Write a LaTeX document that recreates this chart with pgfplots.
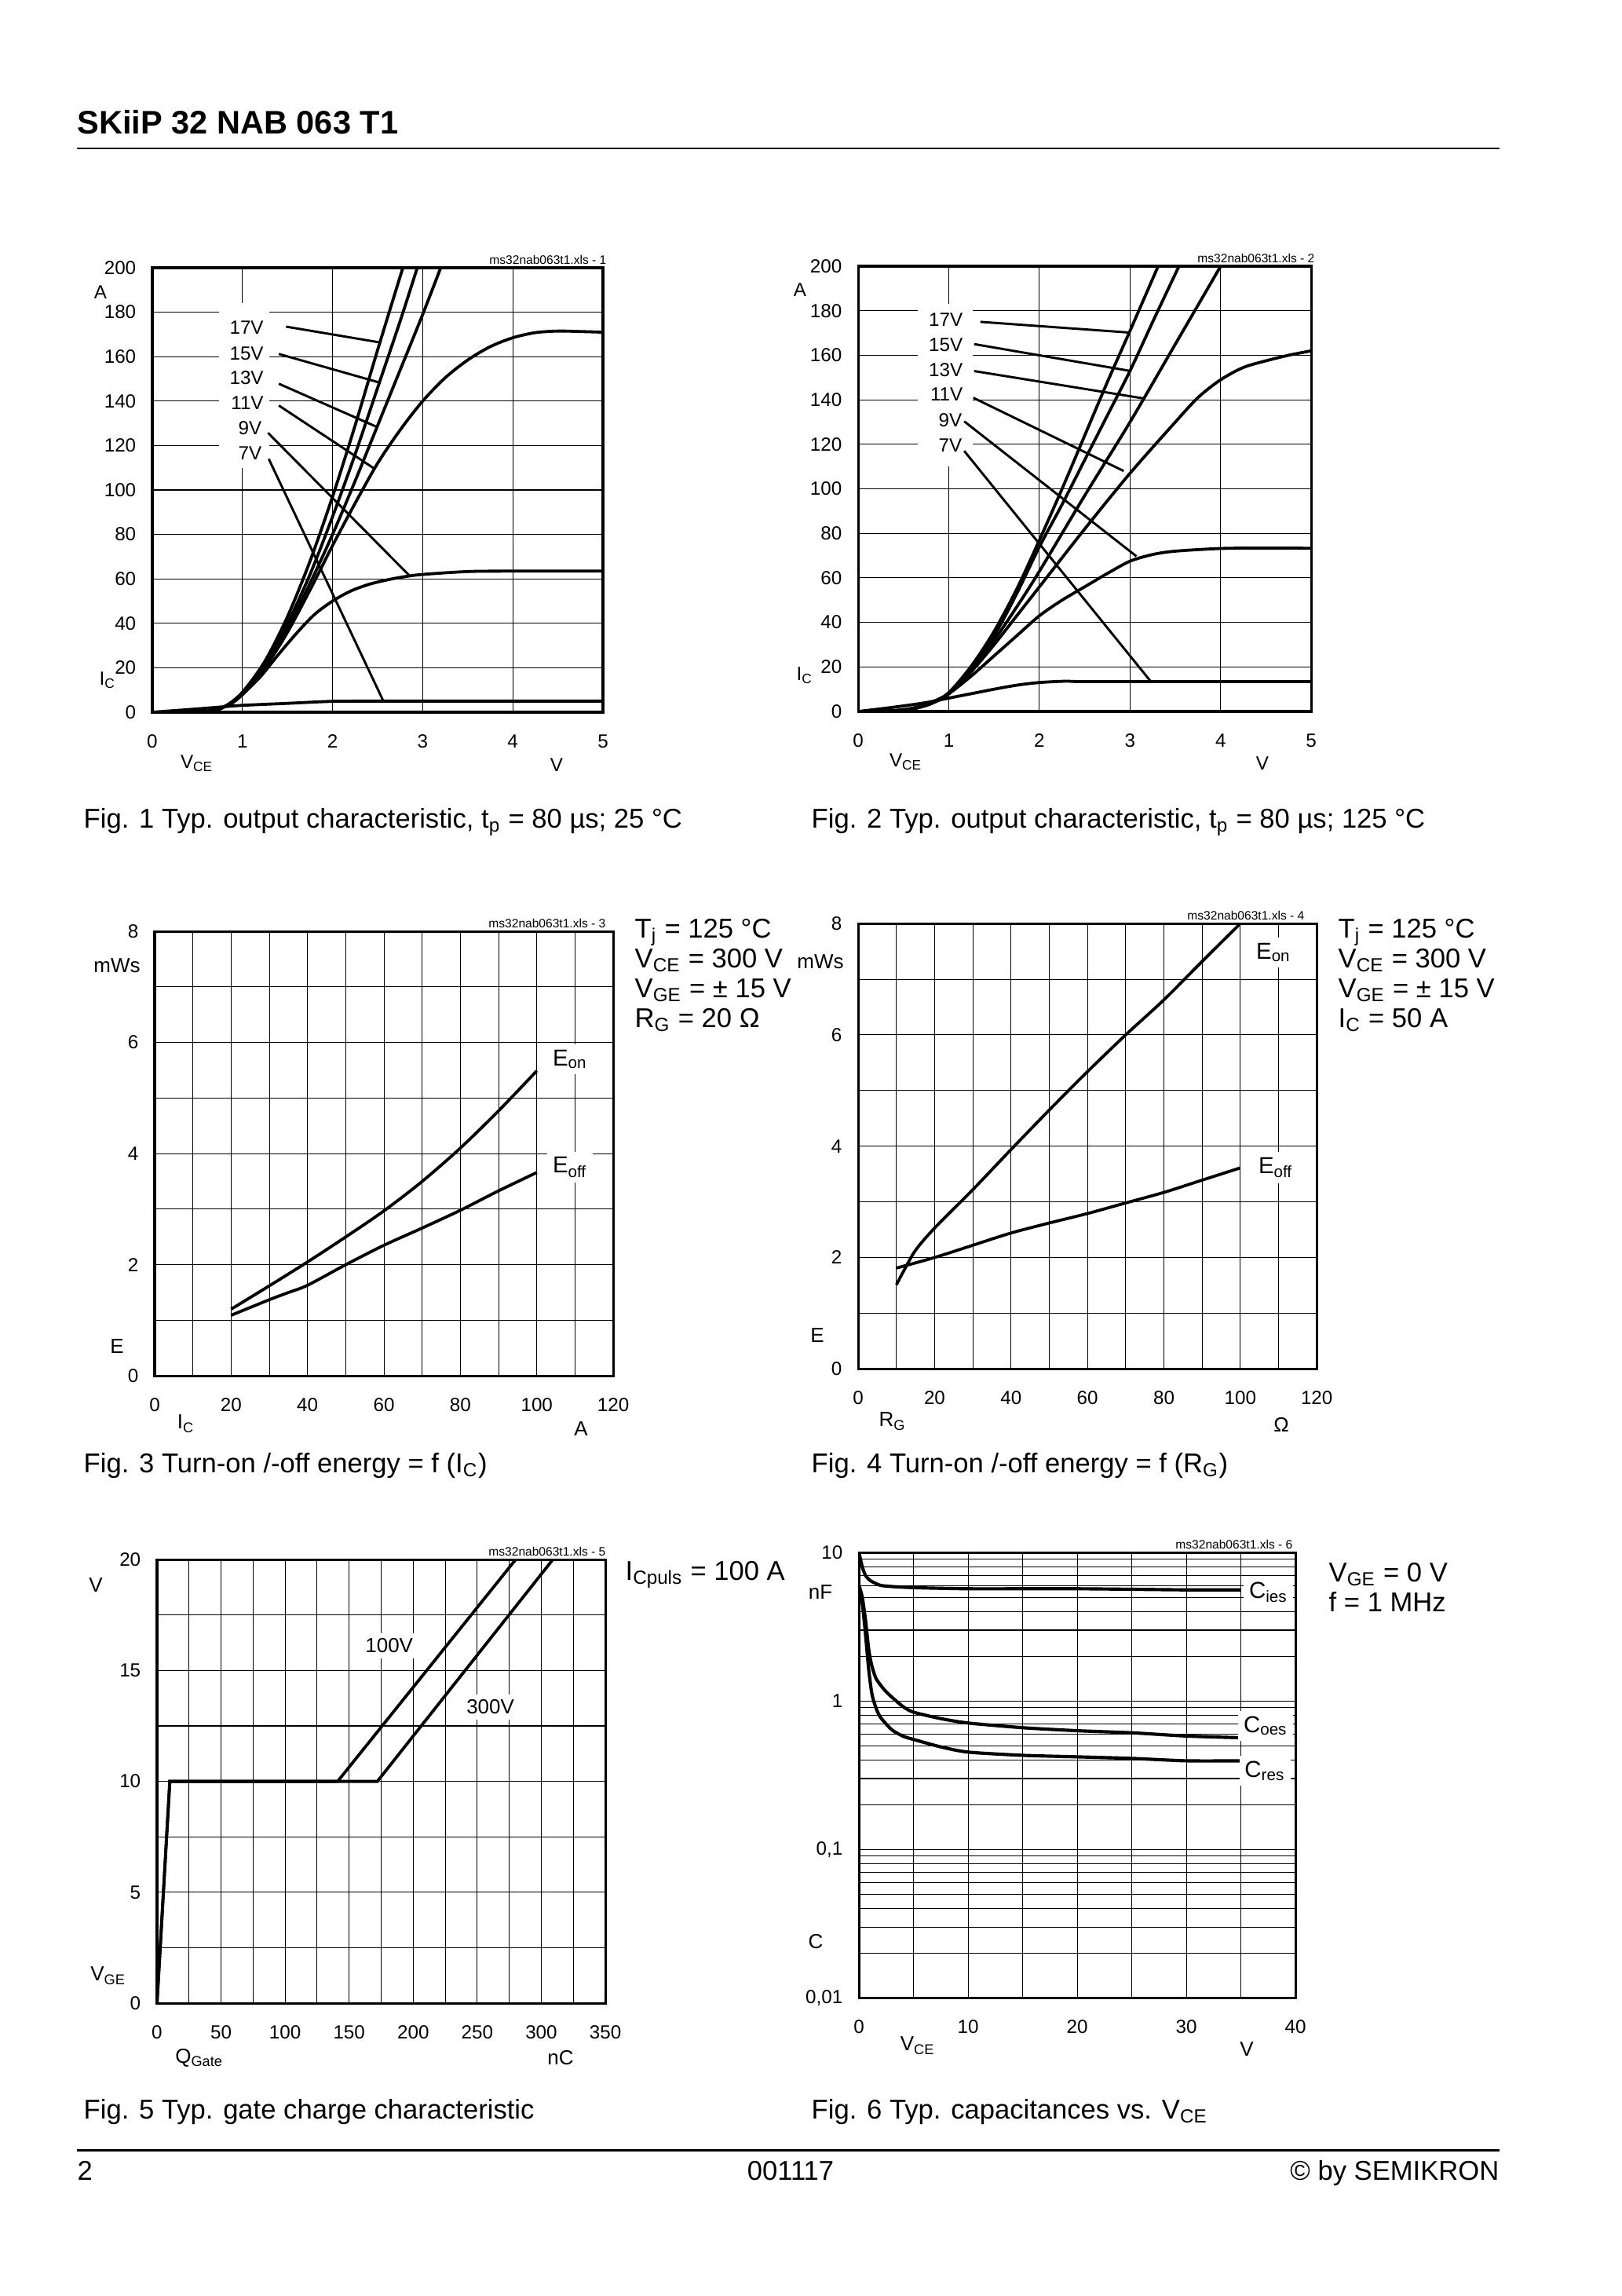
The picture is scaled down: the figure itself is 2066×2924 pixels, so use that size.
\documentclass[border=0pt]{standalone}
\usepackage{pgfplots}
\pgfplotsset{compat=1.18}
\usepackage{fontspec}
\setmainfont{Liberation Sans}

\pgfplotsset{
  ds/.style={
    scale only axis, anchor=south west,
    axis line style={line width=0.9pt},
    major grid style={line width=0.3pt, black},
    minor grid style={line width=0.3pt, black},
    major tick length=0pt, minor tick length=0pt,
    tick style={draw=none},
    ticklabel style={font={\fontsize{7}{8}\selectfont}},
    xticklabel style={anchor=center, yshift=-10.7pt, inner sep=0pt},
    yticklabel style={anchor=east, xshift=-5.8pt, inner sep=0pt},
    /pgf/number format/assume math mode=true,
    scaled ticks=false,
    cycle list={{black,solid,mark=none}},
    every axis plot post/.append style={line width=1.1pt, black, mark=none},
  },
}
\tikzset{
  t7/.style={font={\fontsize{7}{8}\selectfont}, inner sep=0pt},
  t75/.style={font={\fontsize{7.5}{8.5}\selectfont}, inner sep=0pt},
  t85/.style={font={\fontsize{8.5}{9.5}\selectfont}, inner sep=0pt},
  t10/.style={font={\fontsize{10}{12}\selectfont}, inner sep=0pt},
  wm/.style={font={\fontsize{4.5}{5}\selectfont}, inner sep=0pt, anchor=south east},
  ld/.style={line width=0.85pt, black},
}

\begin{document}
\begin{tikzpicture}[x=0.10157mm,y=-0.10157mm]
\path[use as bounding box, fill=white] (0,0) rectangle (2066,2924);

% ---------------- Fig 1 ----------------
\begin{axis}[ds, at={(19.70mm,-92.12mm)}, width=58.30mm, height=57.49mm,
  xmin=0, xmax=5, ymin=0, ymax=200,
  xtick={0,1,2,3,4,5}, ytick={0,20,...,200}, grid=major]
\fill[white] (axis cs:0.74,110) rectangle (axis cs:1.30,184);
\addplot+[smooth] coordinates {(0,0)(0.5,1.5)(0.8,2.5)(1,3.1)(1.5,4)(2,4.9)(2.5,5)(3,5)(4,5)(5,5)};
\addplot+[smooth] coordinates {(0,0)(0.6,0.5)(0.8,2.5)(0.9,4.5)(1,8)(1.2,16)(1.4,26)(1.6,35.5)(1.8,44)(2,50)(2.2,54.5)(2.4,57.5)(2.6,59.5)(2.8,61)(3,62)(3.5,63.3)(4,63.5)(5,63.5)};
\addplot+[smooth] coordinates {(0,0)(0.6,0.4)(0.8,2.5)(1,8)(1.25,20)(1.5,36)(1.75,55)(2,75)(2.25,94)(2.5,112)(2.75,127)(3,140)(3.25,150.5)(3.5,158.5)(3.75,164.5)(4,168.5)(4.25,170.8)(4.5,171.5)(4.75,171.3)(5,171)};
\addplot+[smooth] coordinates {(0,0)(0.6,0.3)(0.8,2.5)(1,8)(1.25,21)(1.5,38)(1.75,58)(2,80)(2.25,104)(2.5,129)(2.75,154)(3,179)(3.2,200)};
\addplot+[smooth] coordinates {(0,0)(0.6,0.3)(0.8,2.5)(1,8.5)(1.25,22)(1.5,40)(1.75,62)(2,88)(2.25,116)(2.5,146)(2.75,176)(2.94,200)};
\addplot+[smooth] coordinates {(0,0)(0.6,0.3)(0.8,2.5)(1,9)(1.25,23)(1.5,43)(1.75,68)(2,97)(2.25,129)(2.5,163)(2.78,200)};
\node[t7, anchor=base east] at (axis cs:1.24,170) {17V};
\node[t7, anchor=base east] at (axis cs:1.24,158.5) {15V};
\node[t7, anchor=base east] at (axis cs:1.24,147.5) {13V};
\node[t7, anchor=base east] at (axis cs:1.24,136.1) {11V};
\node[t7, anchor=base east] at (axis cs:1.22,124.9) {9V};
\node[t7, anchor=base east] at (axis cs:1.22,113.6) {7V};
\draw[ld] (axis cs:1.484,173.5) -- (axis cs:2.524,166.4);
\draw[ld] (axis cs:1.404,161.2) -- (axis cs:2.524,148.3);
\draw[ld] (axis cs:1.404,147.8) -- (axis cs:2.484,128.5);
\draw[ld] (axis cs:1.404,138) -- (axis cs:2.464,109.6);
\draw[ld] (axis cs:1.284,125.7) -- (axis cs:2.852,61.5);
\draw[ld] (axis cs:1.292,114) -- (axis cs:2.564,5.0);
\end{axis}
\node[wm] at (773,337) {ms32nab063t1.xls - 1};
\node[t7] at (128,372) {A};
\node[t7] at (137,866) {I\textsubscript{C}};
\node[t7] at (251,972) {V\textsubscript{CE}};
\node[t7] at (709,974) {V};

% ---------------- Fig 2 ----------------
\begin{axis}[ds, at={(111.02mm,-92.02mm)}, width=58.61mm, height=57.59mm,
  xmin=0, xmax=5, ymin=0, ymax=200,
  xtick={0,1,2,3,4,5}, ytick={0,20,...,200}, grid=major]
\fill[white] (axis cs:0.66,110) rectangle (axis cs:1.26,183);
\addplot+[smooth] coordinates {(0,0)(0.25,1.2)(0.5,2.5)(0.75,4)(1,6)(1.25,8)(1.5,10)(1.75,11.8)(2,13)(2.3,13.6)(2.6,13.4)(5,13.4)};
\addplot+[smooth] coordinates {(0,0)(0.4,0.5)(0.6,1.5)(0.8,4)(1,8)(1.25,16)(1.5,25)(1.75,34)(2,43)(2.25,50)(2.5,56)(2.75,62)(3,67.5)(3.25,70.5)(3.5,72)(4,73.2)(4.5,73.4)(5,73.3)};
\addplot+[smooth] coordinates {(0,0)(0.4,0.3)(0.6,1.2)(0.8,3.5)(1,8)(1.25,18)(1.5,30)(1.75,43)(2,56)(2.5,82)(3,107)(3.5,130)(3.75,141)(4,149)(4.25,154.5)(4.5,157.5)(4.75,160)(5,162)};
\addplot+[smooth] coordinates {(0,0)(0.4,0.3)(0.6,1.2)(0.8,3.5)(1,8)(1.25,19)(1.5,32)(1.75,47)(2,63)(2.5,97)(3,130)(3.5,165)(4,200)};
\addplot+[smooth] coordinates {(0,0)(0.4,0.3)(0.6,1.2)(0.8,3.5)(1,8)(1.25,20)(1.5,34)(1.75,53)(2,74)(2.25,93)(2.5,113)(2.75,133)(3,153)(3.25,175)(3.54,200)};
\addplot+[smooth] coordinates {(0,0)(0.4,0.3)(0.6,1.2)(0.8,3.5)(1,8.5)(1.25,20.5)(1.5,36)(1.75,55)(2,77)(2.25,100)(2.5,124)(2.75,148)(3,171)(3.31,200)};
\node[t7, anchor=base east] at (axis cs:1.16,172.9) {17V};
\node[t7, anchor=base east] at (axis cs:1.16,161.9) {15V};
\node[t7, anchor=base east] at (axis cs:1.16,150.5) {13V};
\node[t7, anchor=base east] at (axis cs:1.16,139.5) {11V};
\node[t7, anchor=base east] at (axis cs:1.15,128) {9V};
\node[t7, anchor=base east] at (axis cs:1.15,116.5) {7V};
\draw[ld] (axis cs:1.348,175) -- (axis cs:2.99,170.2);
\draw[ld] (axis cs:1.28,165) -- (axis cs:3.01,152.9);
\draw[ld] (axis cs:1.28,152.9) -- (axis cs:3.15,140.6);
\draw[ld] (axis cs:1.27,140.9) -- (axis cs:2.93,108);
\draw[ld] (axis cs:1.17,130.3) -- (axis cs:3.07,69.7);
\draw[ld] (axis cs:1.17,117) -- (axis cs:3.23,13.4);
\end{axis}
\node[wm] at (1675,335) {ms32nab063t1.xls - 2};
\node[t7] at (1019,369) {A};
\node[t7] at (1025,860) {I\textsubscript{C}};
\node[t7] at (1154,970) {V\textsubscript{CE}};
\node[t7] at (1608,972) {V};

% ---------------- Fig 3 ----------------
\begin{axis}[ds, at={(20.01mm,-177.95mm)}, width=59.32mm, height=57.49mm,
  xmin=0, xmax=120, ymin=0, ymax=8,
  xtick={0,20,...,120}, minor xtick={10,30,...,110},
  ytick={0,2,4,6,8}, minor ytick={1,3,5,7},
  grid=both]
\addplot+[smooth] coordinates {(20,1.2)(30,1.62)(40,2.05)(50,2.5)(60,2.97)(70,3.5)(80,4.1)(90,4.77)(100,5.49)};
\addplot+[smooth] coordinates {(20,1.09)(30,1.37)(35,1.5)(40,1.63)(50,2.0)(60,2.35)(70,2.66)(80,2.98)(90,3.33)(100,3.66)};
\node[t85, anchor=base west, fill=white, inner sep=2pt] at (axis cs:102.6,5.58) {E\textsubscript{on}};
\node[t85, anchor=base west, fill=white, inner sep=2pt] at (axis cs:102.6,3.65) {E\textsubscript{off}};
\end{axis}
\node[wm] at (772,1182) {ms32nab063t1.xls - 3};
\node[t75] at (149,1230) {mWs};
\node[t75] at (149,1715) {E};
\node[t75] at (237,1813) {I\textsubscript{C}};
\node[t75] at (740,1820) {A};
\node[t10, anchor=base west] at (808,1194) {T\textsubscript{j} = 125 °C};
\node[t10, anchor=base west] at (808,1232) {V\textsubscript{CE} = 300 V};
\node[t10, anchor=base west] at (808,1270) {V\textsubscript{GE} = ± 15 V};
\node[t10, anchor=base west] at (808,1308) {R\textsubscript{G} = 20 Ω};

% ---------------- Fig 4 ----------------
\begin{axis}[ds, at={(111.02mm,-177.04mm)}, width=59.32mm, height=57.59mm,
  xmin=0, xmax=120, ymin=0, ymax=8,
  xtick={0,20,...,120}, minor xtick={10,30,...,110},
  ytick={0,2,4,6,8}, minor ytick={1,3,5,7},
  grid=both]
\addplot+[smooth] coordinates {(10,1.51)(12,1.77)(15,2.13)(20,2.53)(30,3.22)(40,3.94)(50,4.65)(60,5.34)(70,6.0)(80,6.63)(90,7.32)(100,8.0)};
\addplot+[smooth] coordinates {(10,1.81)(20,2.0)(30,2.22)(40,2.44)(50,2.62)(60,2.79)(70,2.98)(80,3.17)(90,3.39)(100,3.61)};
\node[t85, anchor=base west, fill=white, inner sep=2pt] at (axis cs:102.6,7.36) {E\textsubscript{on}};
\node[t85, anchor=base west, fill=white, inner sep=2pt] at (axis cs:103.2,3.51) {E\textsubscript{off}};
\end{axis}
\node[wm] at (1662,1172) {ms32nab063t1.xls - 4};
\node[t75] at (1045,1225) {mWs};
\node[t75] at (1041,1701) {E};
\node[t75] at (1137,1810) {R\textsubscript{G}};
\node[t75] at (1632,1814) {Ω};
\node[t10, anchor=base west] at (1704,1194) {T\textsubscript{j} = 125 °C};
\node[t10, anchor=base west] at (1704,1232) {V\textsubscript{CE} = 300 V};
\node[t10, anchor=base west] at (1704,1270) {V\textsubscript{GE} = ± 15 V};
\node[t10, anchor=base west] at (1704,1308) {I\textsubscript{C} = 50 A};

% ---------------- Fig 5 ----------------
\begin{axis}[ds, at={(20.31mm,-259.10mm)}, width=58.00mm, height=57.39mm,
  xmin=0, xmax=350, ymin=0, ymax=20,
  xtick={0,50,...,350}, minor xtick={25,75,...,325},
  ytick={0,5,...,20}, minor ytick={2.5,7.5,12.5,17.5},
  grid=both]
\addplot coordinates {(0,0)(10,10)(141,10)(280,20)};
\addplot coordinates {(0,0)(10,10)(172,10)(309,20)};
\node[t75, anchor=base west, fill=white, inner sep=2pt] at (axis cs:158,15.8) {100V};
\node[t75, anchor=base west, fill=white, inner sep=2pt] at (axis cs:237,13.04) {300V};
\end{axis}
\node[wm] at (772,1982) {ms32nab063t1.xls - 5};
\node[t75] at (122,2019) {V};
\node[t75] at (138,2516) {V\textsubscript{GE}};
\node[t75] at (254,2621) {Q\textsubscript{Gate}};
\node[t75] at (714,2621) {nC};
\node[t10, anchor=base west] at (796,2012) {I\textsubscript{Cpuls} = 100 A};

% ---------------- Fig 6 ----------------
\begin{axis}[ds, at={(111.12mm,-258.39mm)}, width=56.47mm, height=57.59mm,
  xmin=0, xmax=40, ymode=log, ymin=0.01, ymax=10,
  xtick={0,10,...,40}, minor xtick={5,15,25,35},
  ytick={0.01,0.1,1,10}, yticklabels={{0,01},{0,1},1,10},
  minor ytick={0.02,0.03,0.04,0.05,0.06,0.07,0.08,0.09,0.2,0.3,0.4,0.5,0.6,0.7,0.8,0.9,2,3,4,5,6,7,8,9},
  grid=both,
  every axis plot post/.append style={line width=1.2pt}]
\addplot+[smooth, tension=0.4] coordinates {(0,10)(0.3,8)(0.6,7)(1,6.5)(1.5,6.2)(2,6.0)(3,5.9)(5,5.8)(10,5.7)(20,5.7)(30,5.6)(35,5.6)};
\addplot+[smooth, tension=0.4] coordinates {(0,6)(0.3,5)(0.6,3.5)(0.9,2.2)(1.2,1.7)(1.6,1.4)(2.5,1.15)(4,0.92)(5,0.84)(7.5,0.76)(10,0.71)(15,0.66)(20,0.63)(25,0.61)(30,0.58)(35,0.565)};
\addplot+[smooth, tension=0.4] coordinates {(0,6)(0.3,4.6)(0.6,2.8)(0.9,1.6)(1.2,1.1)(1.6,0.88)(2,0.77)(3,0.64)(4,0.58)(5,0.55)(7.5,0.49)(10,0.452)(15,0.43)(20,0.42)(25,0.41)(30,0.395)(35,0.395)};
\node[t85, anchor=base west, fill=white, inner sep=2pt] at (axis cs:35.2,4.91) {C\textsubscript{ies}};
\node[t85, anchor=base west, fill=white, inner sep=2pt] at (axis cs:34.7,0.614) {C\textsubscript{oes}};
\node[t85, anchor=base west, fill=white, inner sep=2pt] at (axis cs:34.8,0.305) {C\textsubscript{res}};
\end{axis}
\node[wm] at (1647,1973) {ms32nab063t1.xls - 6};
\node[t75] at (1045,2028) {nF};
\node[t75] at (1039,2473) {C};
\node[t75] at (1169,2605) {V\textsubscript{CE}};
\node[t75] at (1588,2610) {V};
\node[t10, anchor=base west] at (1692,2014) {V\textsubscript{GE} = 0 V};
\node[t10, anchor=base west] at (1692,2052) {f = 1 MHz};

% ---------------- captions ----------------
\node[t10, anchor=base west] at (106,1054) {Fig. 1 Typ. output characteristic, t\textsubscript{p} = 80 µs; 25 °C};
\node[t10, anchor=base west] at (1033,1054) {Fig. 2 Typ. output characteristic, t\textsubscript{p} = 80 µs; 125 °C};
\node[t10, anchor=base west] at (106,1875) {Fig. 3 Turn-on /-off energy = f (I\textsubscript{C})};
\node[t10, anchor=base west] at (1033,1875) {Fig. 4 Turn-on /-off energy = f (R\textsubscript{G})};
\node[t10, anchor=base west] at (106,2698) {Fig. 5 Typ. gate charge characteristic};
\node[t10, anchor=base west] at (1033,2698) {Fig. 6 Typ. capacitances vs. V\textsubscript{CE}};

% ---------------- header / footer ----------------
\node[anchor=base west, inner sep=0pt, font={\fontsize{12}{14}\selectfont\bfseries}] at (98,171) {SKiiP 32 NAB 063 T1};
\draw[line width=0.85pt] (98,189) -- (1910,189);
\draw[line width=0.85pt] (98,2738) -- (1910,2738);
\node[t10, anchor=base west] at (98,2776) {2};
\node[t10, anchor=base] at (1007,2776) {001117};
\node[t10, anchor=base east] at (1910,2776) {© by SEMIKRON};
\end{tikzpicture}
\end{document}
